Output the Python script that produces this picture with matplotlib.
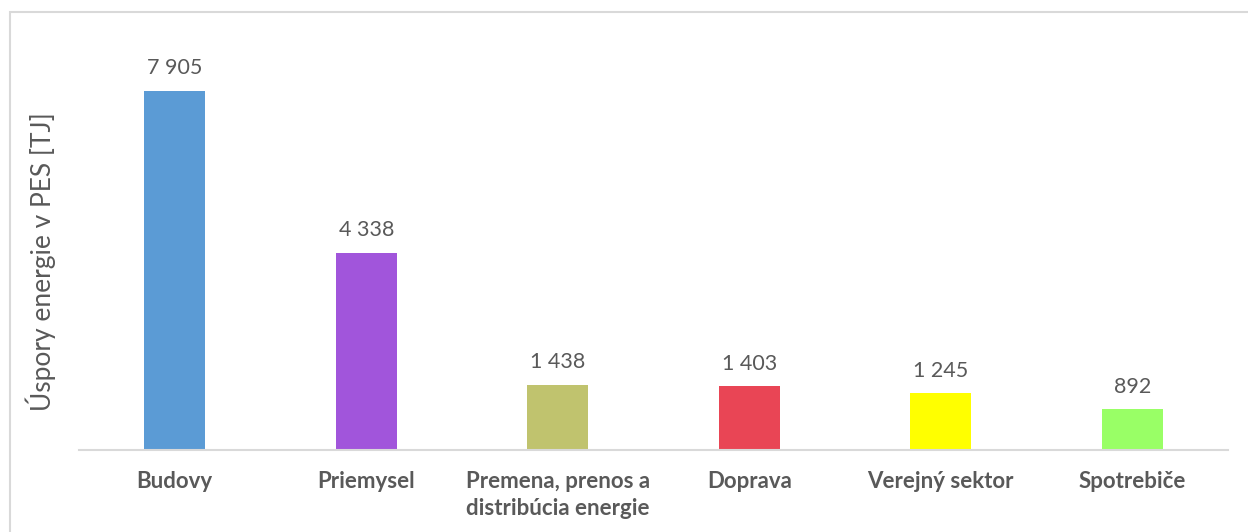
import numpy as np
import matplotlib.pyplot as plt
from matplotlib.patches import Rectangle

# data
categories = ["Budovy", "Priemysel", "Premena, prenos a\ndistribúcia energie",
              "Doprava", "Verejný sektor", "Spotrebiče"]
savings = [7905, 4338, 1438, 1403, 1245, 892]
bar_colors = ["#5B9BD5", "#A155DB", "#C0C36E", "#E94555", "#FFFF00", "#99FF66"]

plt.rcParams['font.family'] = ['Lato', 'DejaVu Sans']
text_grey = "#595959"

fig = plt.figure(figsize=(12.48, 5.32), dpi=100)
# light outer frame (left and top visible only)
fig.patches.append(Rectangle((10 / 1248, -0.1), 1.5, 1.1 - 12 / 532, transform=fig.transFigure,
                             fill=False, edgecolor="#D9D9D9", linewidth=1.5))

ax = fig.add_axes([79 / 1248, (532 - 450) / 532, (1228 - 79) / 1248, (450 - 41) / 532])
x = np.arange(len(categories))
bars = ax.bar(x, savings, width=0.32, color=bar_colors)

for rect, val in zip(bars, savings):
    label = f"{val:,}".replace(",", " ")
    ax.annotate(label, (rect.get_x() + rect.get_width() / 2, val), xytext=(0, 9),
                textcoords="offset points", ha="center", va="bottom",
                fontsize=15.5, color=text_grey)

ax.set_xlim(-0.5, len(categories) - 0.5)
ax.set_ylim(0, 9000)
ax.set_xticks(x)
ax.set_xticklabels(categories, fontsize=16, fontweight="bold", color=text_grey, linespacing=1.35)
ax.tick_params(axis="x", length=0, pad=15)
ax.set_yticks([])
for side in ["top", "right", "left"]:
    ax.spines[side].set_visible(False)
ax.spines["bottom"].set_color("#D9D9D9")
ax.spines["bottom"].set_linewidth(1.5)

ax.set_ylabel("Úspory energie v PES [TJ]", fontsize=19, color=text_grey)
ax.yaxis.set_label_coords(-0.02, 0.46)

fig.savefig("out.png", dpi=100)
